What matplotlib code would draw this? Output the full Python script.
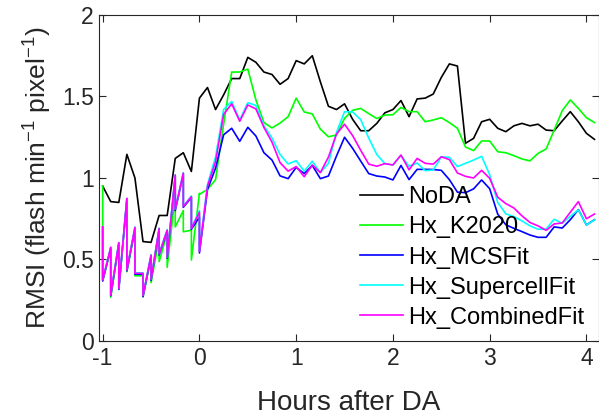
import numpy as np
import matplotlib.pyplot as plt

plt.rcParams['font.family'] = ['Liberation Sans', 'DejaVu Sans']
plt.rcParams['mathtext.fontset'] = 'custom'
plt.rcParams['mathtext.rm'] = 'Liberation Sans'
plt.rcParams['mathtext.it'] = 'Liberation Sans'
plt.rcParams['axes.unicode_minus'] = False

# 5-minute output times, -1 h to +4:05 h
t = np.arange(-12, 50) / 12.0

noda = [0.95, 0.855, 0.85, 1.145, 1.00, 0.61, 0.605, 0.77, 0.77, 1.12, 1.155, 1.04,
        1.49, 1.555, 1.42, 1.51, 1.61, 1.61, 1.74, 1.71, 1.65, 1.635, 1.575, 1.61,
        1.72, 1.70, 1.75, 1.59, 1.44, 1.42, 1.455, 1.36, 1.29, 1.29, 1.335, 1.40,
        1.42, 1.475, 1.376, 1.485, 1.49, 1.515, 1.617, 1.70, 1.687, 1.213, 1.243,
        1.345, 1.36, 1.305, 1.284, 1.32, 1.335, 1.32, 1.33, 1.294, 1.29, 1.35,
        1.407, 1.345, 1.274, 1.237]

# DA cycling period (-1 h .. 0 h): prior / posterior at each analysis time
k2020_prior = [0.95, 0.56, 0.59, 0.86, 0.68, 0.40, 0.51, 0.63, 0.66, 0.90, 0.80, 0.68, 0.906]
k2020_post = [0.37, 0.268, 0.316, 0.425, 0.40, 0.27, 0.358, 0.487, 0.452, 0.70, 0.67, 0.497, 0.90]
mcs_prior = [0.70, 0.57, 0.60, 0.87, 0.69, 0.41, 0.52, 0.685, 0.675, 1.01, 1.025, 0.88, 0.76]
mcs_post = [0.368, 0.278, 0.318, 0.43, 0.41, 0.272, 0.372, 0.528, 0.508, 0.80, 0.82, 0.685, 0.54]
sc_prior = [0.70, 0.575, 0.605, 0.875, 0.70, 0.418, 0.53, 0.693, 0.683, 1.02, 1.032, 0.89, 0.80]
sc_post = [0.376, 0.285, 0.325, 0.438, 0.418, 0.28, 0.38, 0.536, 0.515, 0.81, 0.827, 0.692, 0.56]
comb_prior = [0.70, 0.575, 0.603, 0.875, 0.697, 0.415, 0.527, 0.69, 0.68, 1.018, 1.03, 0.885, 0.79]
comb_post = [0.374, 0.282, 0.323, 0.436, 0.415, 0.278, 0.378, 0.534, 0.513, 0.808, 0.825, 0.69, 0.55]

# free forecast (+5 min .. +4:05 h)
k2020_fc = [0.93, 0.99, 1.33, 1.65, 1.65, 1.668, 1.48, 1.34, 1.307, 1.337, 1.376,
            1.49, 1.405, 1.393, 1.30, 1.253, 1.264, 1.366, 1.415, 1.427, 1.395, 1.365,
            1.386, 1.388, 1.433, 1.407, 1.407, 1.345, 1.356, 1.37, 1.34, 1.305, 1.19,
            1.168, 1.227, 1.227, 1.161, 1.155, 1.137, 1.117, 1.105, 1.151, 1.178,
            1.294, 1.413, 1.479, 1.427, 1.37, 1.34]
mcs_fc = [0.93, 1.06, 1.265, 1.305, 1.225, 1.311, 1.258, 1.155, 1.11, 1.013, 0.996,
          1.065, 1.027, 1.077, 0.996, 1.012, 1.135, 1.25, 1.182, 1.104, 1.027, 1.012,
          1.006, 0.988, 1.077, 0.99, 1.053, 1.053, 1.052, 1.047, 0.99, 0.913, 0.91,
          0.933, 0.988, 0.934, 0.778, 0.713, 0.691, 0.671, 0.65, 0.636, 0.636, 0.70,
          0.693, 0.744, 0.806, 0.712, 0.744]
sc_fc = [0.96, 1.13, 1.42, 1.47, 1.356, 1.462, 1.445, 1.32, 1.245, 1.144, 1.086,
         1.106, 1.042, 1.103, 1.033, 1.09, 1.28, 1.407, 1.405, 1.358, 1.245, 1.144,
         1.088, 1.08, 1.138, 1.072, 1.092, 1.045, 1.049, 1.13, 1.127, 1.07, 1.09,
         1.11, 1.133, 1.02, 0.85, 0.78, 0.763, 0.737, 0.706, 0.686, 0.686, 0.747,
         0.722, 0.765, 0.804, 0.712, 0.742]
comb_fc = [0.95, 1.10, 1.39, 1.455, 1.348, 1.448, 1.424, 1.31, 1.22, 1.094, 1.042,
           1.07, 1.008, 1.08, 1.033, 1.128, 1.27, 1.33, 1.26, 1.17, 1.085, 1.072,
           1.088, 1.08, 1.141, 1.05, 1.12, 1.09, 1.085, 1.13, 1.113, 1.031, 1.01,
           1.0, 1.047, 0.998, 0.882, 0.843, 0.816, 0.768, 0.727, 0.706, 0.679, 0.718,
           0.724, 0.79, 0.855, 0.75, 0.779]


def sawtooth(prior, post, fc):
    n = len(prior)
    x = np.repeat(t[:n], 2)
    y = np.empty(2 * n)
    y[0::2] = prior
    y[1::2] = post
    return np.concatenate([x, t[n:]]), np.concatenate([y, fc])


fig = plt.figure(figsize=(5.99, 4.19), dpi=100)
ax = fig.add_axes([0.1661, 0.1862, 0.8331, 0.778])

lw = 1.2
ax.plot(t, noda, color='k', lw=lw, label='NoDA')
x, y = sawtooth(k2020_prior, k2020_post, k2020_fc)
ax.plot(x, y, color='#00ff00', lw=lw, label='Hx_K2020')
x, y = sawtooth(mcs_prior, mcs_post, mcs_fc)
ax.plot(x, y, color='#0000ff', lw=lw, label='Hx_MCSFit')
x, y = sawtooth(sc_prior, sc_post, sc_fc)
ax.plot(x, y, color='#00ffff', lw=lw, label='Hx_SupercellFit')
x, y = sawtooth(comb_prior, comb_post, comb_fc)
ax.plot(x, y, color='#ff00ff', lw=lw, label='Hx_CombinedFit')

ax.set_xlim(-1.033, 4.125)
ax.set_ylim(0, 2)
ax.set_xticks([-1, 0, 1, 2, 3, 4])
ax.set_yticks([0, 0.5, 1, 1.5, 2])
ax.set_yticklabels(['0', '0.5', '1', '1.5', '2'])
ax.tick_params(direction='in', top=True, right=True, labelsize=16.5,
               colors='#262626', length=5, width=0.8, pad=4)
for s in ax.spines.values():
    s.set_color('#262626')
    s.set_linewidth(0.8)

ax.set_xlabel('Hours after DA', fontsize=20, color='#262626', labelpad=15)
ax.set_ylabel('RMSI (flash min$^{-1}$ pixel$^{-1}$)', fontsize=19,
              color='#262626', labelpad=6)

ax.legend(loc='upper left', bbox_to_anchor=(0.522, 0.474), frameon=False,
          fontsize=17, borderpad=0, borderaxespad=0, labelspacing=0.34,
          handlelength=1.82, handletextpad=0.2)

fig.savefig('out.png', dpi=100)
